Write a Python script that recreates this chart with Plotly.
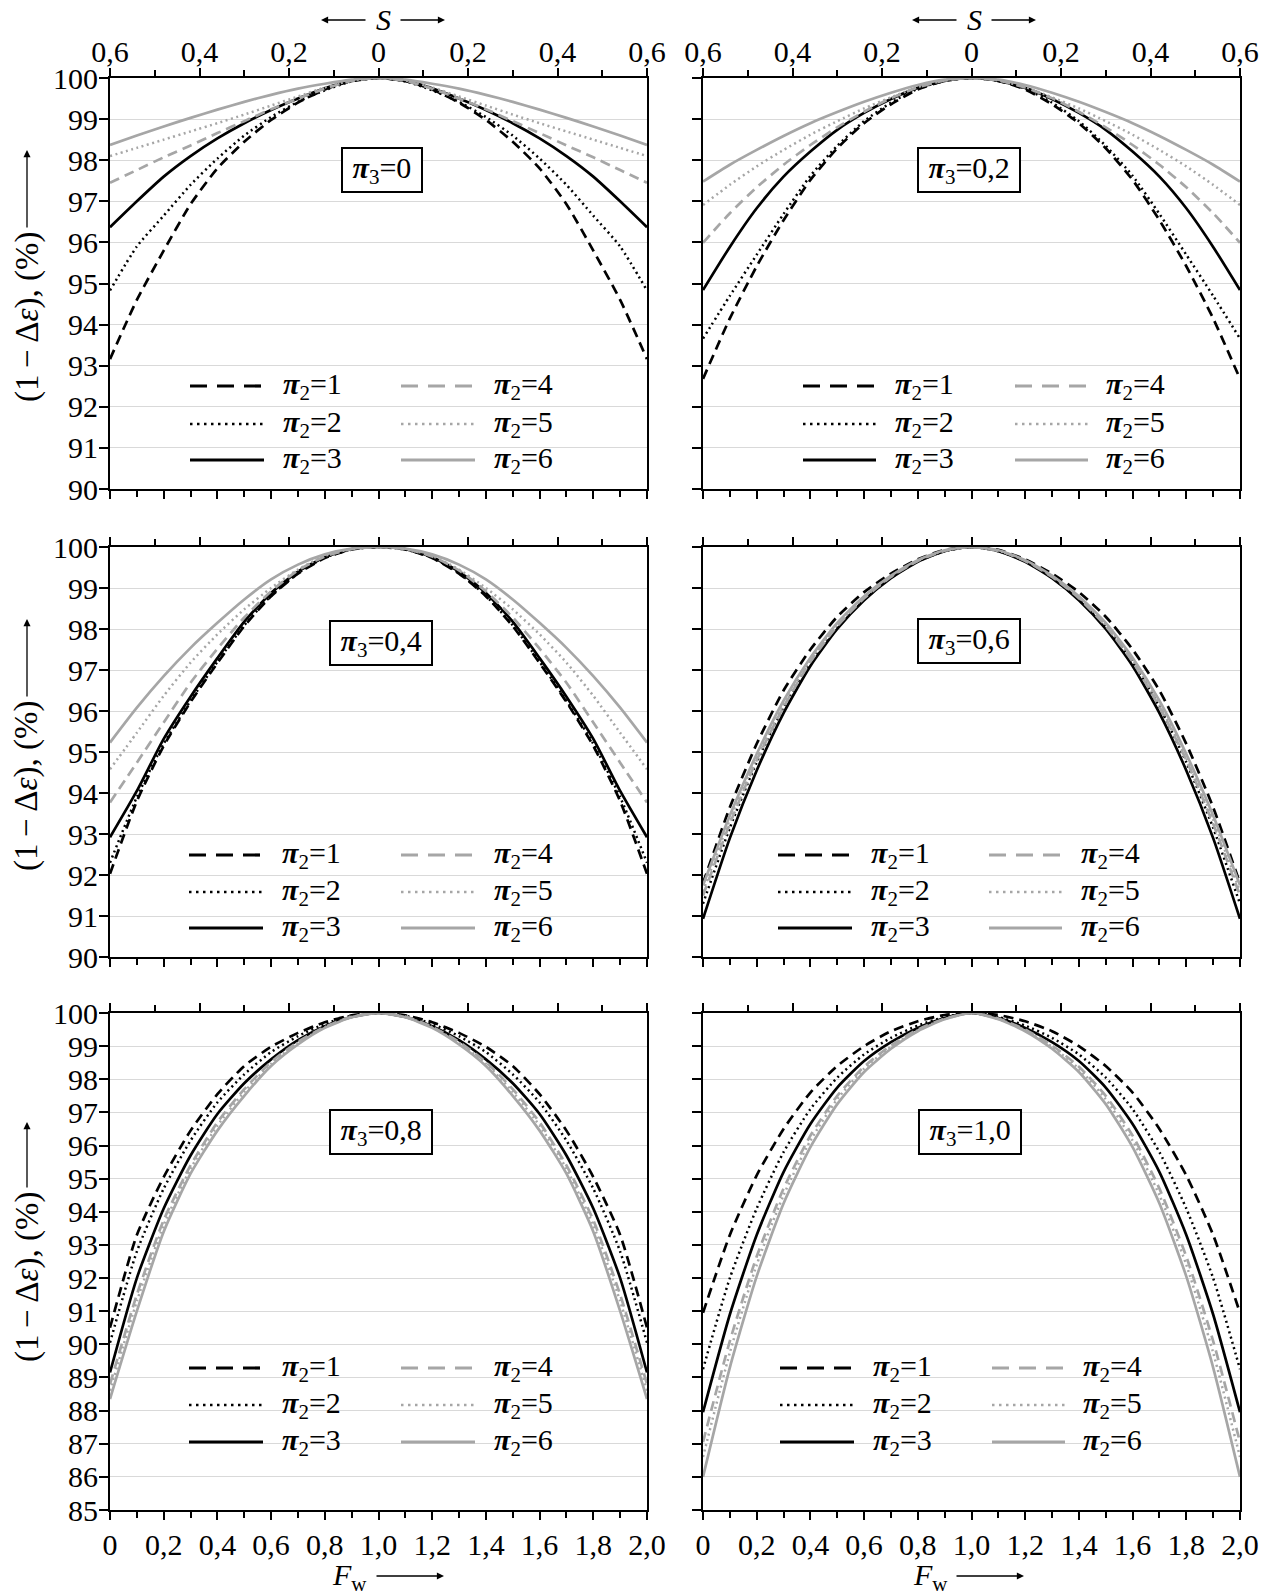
import plotly.graph_objects as go

W, H = 1264, 1596

# ---------------- data ----------------
F_W = [0.0, 0.1, 0.2, 0.3, 0.4, 0.5, 0.6, 0.7, 0.8, 0.9, 1.0,
       1.1, 1.2, 1.3, 1.4, 1.5, 1.6, 1.7, 1.8, 1.9, 2.0]
F_TICKS = [0.0, 0.2, 0.4, 0.6, 0.8, 1.0, 1.2, 1.4, 1.6, 1.8, 2.0]
F_TICK_TEXT = ["0", "0,2", "0,4", "0,6", "0,8", "1,0", "1,2", "1,4", "1,6", "1,8", "2,0"]
F_MINOR = [0.1, 0.3, 0.5, 0.7, 0.9, 1.1, 1.3, 1.5, 1.7, 1.9]
S_TICKS_F = [0.0, 1/3, 2/3, 1.0, 4/3, 5/3, 2.0]
S_TICK_TEXT = ["0,6", "0,4", "0,2", "0", "0,2", "0,4", "0,6"]
S_MINOR_F = [1/6, 0.5, 5/6, 7/6, 1.5, 11/6]

PI3_LABELS = ["0", "0,2", "0,4", "0,6", "0,8", "1,0"]
PI2_LABELS = ["1", "2", "3", "4", "5", "6"]

# pi3 = 0
pi3_0_pi2_1 = [93.16, 94.6, 95.8, 96.93, 97.8, 98.45, 98.98, 99.4, 99.72, 99.93, 100, 99.93, 99.72, 99.4, 98.98, 98.45, 97.8, 96.93, 95.8, 94.6, 93.16]
pi3_0_pi2_2 = [94.83, 95.9, 96.65, 97.4, 98.04, 98.6, 99.05, 99.42, 99.7, 99.92, 100, 99.92, 99.7, 99.42, 99.05, 98.6, 98.04, 97.4, 96.65, 95.9, 94.83]
pi3_0_pi2_3 = [96.37, 97.0, 97.6, 98.1, 98.53, 98.9, 99.22, 99.5, 99.75, 99.93, 100, 99.93, 99.75, 99.5, 99.22, 98.9, 98.53, 98.1, 97.6, 97.0, 96.37]
pi3_0_pi2_4 = [97.45, 97.76, 98.07, 98.36, 98.66, 98.95, 99.24, 99.5, 99.74, 99.93, 100, 99.93, 99.74, 99.5, 99.24, 98.95, 98.66, 98.36, 98.07, 97.76, 97.45]
pi3_0_pi2_5 = [98.1, 98.3, 98.5, 98.7, 98.9, 99.11, 99.33, 99.55, 99.77, 99.94, 100, 99.94, 99.77, 99.55, 99.33, 99.11, 98.9, 98.7, 98.5, 98.3, 98.1]
pi3_0_pi2_6 = [98.37, 98.6, 98.82, 99.03, 99.23, 99.42, 99.59, 99.74, 99.86, 99.96, 100, 99.96, 99.86, 99.74, 99.59, 99.42, 99.23, 99.03, 98.82, 98.6, 98.37]

# pi3 = 0,2
pi3_02_pi2_1 = [92.68, 94.15, 95.42, 96.54, 97.52, 98.29, 98.9, 99.36, 99.72, 99.93, 100, 99.93, 99.72, 99.36, 98.9, 98.29, 97.52, 96.54, 95.42, 94.15, 92.68]
pi3_02_pi2_2 = [93.66, 94.7, 95.7, 96.69, 97.62, 98.35, 98.95, 99.4, 99.74, 99.93, 100, 99.93, 99.74, 99.4, 98.95, 98.35, 97.62, 96.69, 95.7, 94.7, 93.66]
pi3_02_pi2_3 = [94.84, 95.89, 96.83, 97.6, 98.21, 98.74, 99.15, 99.49, 99.76, 99.93, 100, 99.93, 99.76, 99.49, 99.15, 98.74, 98.21, 97.6, 96.83, 95.89, 94.84]
pi3_02_pi2_4 = [95.99, 96.71, 97.34, 97.89, 98.37, 98.8, 99.18, 99.51, 99.77, 99.94, 100, 99.94, 99.77, 99.51, 99.18, 98.8, 98.37, 97.89, 97.34, 96.71, 95.99]
pi3_02_pi2_5 = [96.91, 97.4, 97.85, 98.25, 98.62, 98.95, 99.26, 99.53, 99.78, 99.94, 100, 99.94, 99.78, 99.53, 99.26, 98.95, 98.62, 98.25, 97.85, 97.4, 96.91]
pi3_02_pi2_6 = [97.48, 97.89, 98.25, 98.59, 98.9, 99.17, 99.42, 99.64, 99.83, 99.96, 100, 99.96, 99.83, 99.64, 99.42, 99.17, 98.9, 98.59, 98.25, 97.89, 97.48]

# pi3 = 0,4
pi3_04_pi2_1 = [92.03, 93.8, 95.15, 96.22, 97.17, 98.07, 98.8, 99.35, 99.73, 99.94, 100, 99.94, 99.73, 99.35, 98.8, 98.07, 97.17, 96.22, 95.15, 93.8, 92.03]
pi3_04_pi2_2 = [92.3, 93.9, 95.2, 96.25, 97.2, 98.09, 98.81, 99.36, 99.74, 99.94, 100, 99.94, 99.74, 99.36, 98.81, 98.09, 97.2, 96.25, 95.2, 93.9, 92.3]
pi3_04_pi2_3 = [92.92, 94.05, 95.32, 96.35, 97.29, 98.18, 98.88, 99.4, 99.75, 99.95, 100, 99.95, 99.75, 99.4, 98.88, 98.18, 97.29, 96.35, 95.32, 94.05, 92.92]
pi3_04_pi2_4 = [93.77, 94.74, 95.72, 96.69, 97.52, 98.28, 98.92, 99.43, 99.77, 99.95, 100, 99.95, 99.77, 99.43, 98.92, 98.28, 97.52, 96.69, 95.72, 94.74, 93.77]
pi3_04_pi2_5 = [94.58, 95.47, 96.37, 97.18, 97.87, 98.48, 99.0, 99.45, 99.78, 99.95, 100, 99.95, 99.78, 99.45, 99.0, 98.48, 97.87, 97.18, 96.37, 95.47, 94.58]
pi3_04_pi2_6 = [95.23, 96.08, 96.85, 97.54, 98.15, 98.72, 99.21, 99.57, 99.82, 99.96, 100, 99.96, 99.82, 99.57, 99.21, 98.72, 98.15, 97.54, 96.85, 96.08, 95.23]

# pi3 = 0,6
pi3_06_pi2_1 = [91.8, 93.65, 95.2, 96.5, 97.5, 98.3, 98.9, 99.35, 99.7, 99.93, 100, 99.93, 99.7, 99.35, 98.9, 98.3, 97.5, 96.5, 95.2, 93.65, 91.8]
pi3_06_pi2_2 = [91.3, 93.15, 94.75, 96.1, 97.2, 98.05, 98.72, 99.25, 99.65, 99.9, 100, 99.9, 99.65, 99.25, 98.72, 98.05, 97.2, 96.1, 94.75, 93.15, 91.3]
pi3_06_pi2_3 = [90.93, 92.9, 94.55, 95.95, 97.1, 98.0, 98.7, 99.24, 99.64, 99.9, 100, 99.9, 99.64, 99.24, 98.7, 98.0, 97.1, 95.95, 94.55, 92.9, 90.93]
pi3_06_pi2_4 = [91.5, 93.25, 94.8, 96.1, 97.2, 98.07, 98.75, 99.27, 99.66, 99.91, 100, 99.91, 99.66, 99.27, 98.75, 98.07, 97.2, 96.1, 94.8, 93.25, 91.5]
pi3_06_pi2_5 = [91.6, 93.35, 94.85, 96.15, 97.25, 98.1, 98.77, 99.28, 99.67, 99.91, 100, 99.91, 99.67, 99.28, 98.77, 98.1, 97.25, 96.15, 94.85, 93.35, 91.6]
pi3_06_pi2_6 = [91.75, 93.45, 94.95, 96.25, 97.3, 98.15, 98.8, 99.3, 99.68, 99.92, 100, 99.92, 99.68, 99.3, 98.8, 98.15, 97.3, 96.25, 94.95, 93.45, 91.75]

# pi3 = 0,8
pi3_08_pi2_1 = [90.5, 93.3, 95.05, 96.45, 97.55, 98.4, 98.98, 99.4, 99.72, 99.93, 100, 99.93, 99.72, 99.4, 98.98, 98.4, 97.55, 96.45, 95.05, 93.3, 90.5]
pi3_08_pi2_2 = [90.05, 92.8, 94.7, 96.15, 97.3, 98.15, 98.82, 99.3, 99.67, 99.92, 100, 99.92, 99.67, 99.3, 98.82, 98.15, 97.3, 96.15, 94.7, 92.8, 90.05]
pi3_08_pi2_3 = [89.15, 92.0, 94.1, 95.7, 96.95, 97.88, 98.6, 99.18, 99.6, 99.88, 100, 99.88, 99.6, 99.18, 98.6, 97.88, 96.95, 95.7, 94.1, 92.0, 89.15]
pi3_08_pi2_4 = [88.8, 91.5, 93.75, 95.4, 96.7, 97.7, 98.52, 99.13, 99.58, 99.89, 100, 99.89, 99.58, 99.13, 98.52, 97.7, 96.7, 95.4, 93.75, 91.5, 88.8]
pi3_08_pi2_5 = [88.6, 91.3, 93.6, 95.3, 96.6, 97.62, 98.47, 99.1, 99.57, 99.88, 100, 99.88, 99.57, 99.1, 98.47, 97.62, 96.6, 95.3, 93.6, 91.3, 88.6]
pi3_08_pi2_6 = [88.35, 91.0, 93.4, 95.15, 96.45, 97.5, 98.4, 99.05, 99.55, 99.87, 100, 99.87, 99.55, 99.05, 98.4, 97.5, 96.45, 95.15, 93.4, 91.0, 88.35]

# pi3 = 1,0
pi3_10_pi2_1 = [90.95, 93.3, 95.1, 96.5, 97.6, 98.4, 99.0, 99.45, 99.75, 99.94, 100, 99.94, 99.75, 99.45, 99.0, 98.4, 97.6, 96.5, 95.1, 93.3, 90.95]
pi3_10_pi2_2 = [89.25, 92.0, 94.1, 95.8, 97.1, 98.05, 98.75, 99.25, 99.62, 99.88, 100, 99.88, 99.62, 99.25, 98.75, 98.05, 97.1, 95.8, 94.1, 92.0, 89.25]
pi3_10_pi2_3 = [87.95, 90.9, 93.3, 95.2, 96.65, 97.75, 98.55, 99.12, 99.55, 99.85, 100, 99.85, 99.55, 99.12, 98.55, 97.75, 96.65, 95.2, 93.3, 90.9, 87.95]
pi3_10_pi2_4 = [87.05, 90.1, 92.65, 94.7, 96.3, 97.5, 98.38, 99.02, 99.5, 99.83, 100, 99.83, 99.5, 99.02, 98.38, 97.5, 96.3, 94.7, 92.65, 90.1, 87.05]
pi3_10_pi2_5 = [86.6, 89.75, 92.4, 94.5, 96.15, 97.4, 98.32, 98.98, 99.48, 99.82, 100, 99.82, 99.48, 98.98, 98.32, 97.4, 96.15, 94.5, 92.4, 89.75, 86.6]
pi3_10_pi2_6 = [86.0, 89.3, 92.05, 94.25, 95.95, 97.25, 98.22, 98.92, 99.45, 99.81, 100, 99.81, 99.45, 98.92, 98.22, 97.25, 95.95, 94.25, 92.05, 89.3, 86.0]

PANELS = [
    [pi3_0_pi2_1, pi3_0_pi2_2, pi3_0_pi2_3, pi3_0_pi2_4, pi3_0_pi2_5, pi3_0_pi2_6],
    [pi3_02_pi2_1, pi3_02_pi2_2, pi3_02_pi2_3, pi3_02_pi2_4, pi3_02_pi2_5, pi3_02_pi2_6],
    [pi3_04_pi2_1, pi3_04_pi2_2, pi3_04_pi2_3, pi3_04_pi2_4, pi3_04_pi2_5, pi3_04_pi2_6],
    [pi3_06_pi2_1, pi3_06_pi2_2, pi3_06_pi2_3, pi3_06_pi2_4, pi3_06_pi2_5, pi3_06_pi2_6],
    [pi3_08_pi2_1, pi3_08_pi2_2, pi3_08_pi2_3, pi3_08_pi2_4, pi3_08_pi2_5, pi3_08_pi2_6],
    [pi3_10_pi2_1, pi3_10_pi2_2, pi3_10_pi2_3, pi3_10_pi2_4, pi3_10_pi2_5, pi3_10_pi2_6],
]
Y_RANGES = [[90, 100], [90, 100], [90, 100], [90, 100], [85, 100], [85, 100]]

# ---------------- styling / layout ----------------
FONT = "Liberation Serif"
FS = 30
BLACK = "#000000"
GRAY = "#a6a6a6"
CURVE_STYLE = [
    dict(color=BLACK, width=2.7, dash="10px,6px"),
    dict(color=BLACK, width=2.5, dash="2px,3.5px"),
    dict(color=BLACK, width=2.7, dash="solid"),
    dict(color=GRAY, width=2.7, dash="10px,6px"),
    dict(color=GRAY, width=2.5, dash="2px,3.5px"),
    dict(color=GRAY, width=2.7, dash="solid"),
]
LEGEND_DASH = ["17px,10px", "2.5px,4.5px", "solid", "17px,10px", "2.5px,4.5px", "solid"]

COLS_X = [(110, 647), (703, 1240)]
ROWS_Y = [(78, 489), (547, 957), (1013, 1510)]


def px(x):
    return x / W


def py(y):
    return 1 - y / H


fig = go.Figure()
layout = dict(
    template="none",
    width=W, height=H, autosize=False,
    margin=dict(l=0, r=0, t=0, b=0, pad=0),
    paper_bgcolor="white", plot_bgcolor="white",
    font=dict(family=FONT, size=FS, color="black"),
    showlegend=False,
)
annotations = []
shapes = []

LEG_COLS = [
    [(190, 264, 281), (401, 475, 492)],
    [(803, 876, 893), (1015, 1088, 1104)],
    [(189, 263, 280), (401, 475, 492)],
    [(778, 852, 869), (989, 1062, 1079)],
    [(189, 263, 280), (401, 475, 492)],
    [(780, 854, 871), (992, 1065, 1081)],
]
LEG_ROWS = [(386, 424, 460), (386, 424, 460), (855, 892, 928), (855, 892, 928),
            (1368, 1405, 1442), (1368, 1405, 1442)]
BOX_POS = [(382, 170), (969, 170), (381, 643), (969, 641), (381, 1132), (970, 1132)]

for i in range(6):
    r, c = i // 2, i % 2
    k = i + 1
    x0, x1 = COLS_X[c]
    y0, y1 = ROWS_Y[r]
    xa = "xaxis" if k == 1 else f"xaxis{k}"
    ya = "yaxis" if k == 1 else f"yaxis{k}"
    xs = f"xaxis{k + 6}"
    xref = "x" if k == 1 else f"x{k}"
    yref = "y" if k == 1 else f"y{k}"

    layout[xa] = dict(
        domain=[px(x0), px(x1)], anchor=yref, range=[0, 2], automargin=False,
        showline=True, linewidth=2, linecolor="black", mirror=False,
        showgrid=False, zeroline=False,
        tickmode="array", tickvals=F_TICKS, ticktext=F_TICK_TEXT,
        showticklabels=(r == 2), ticks="outside", ticklen=8, tickwidth=2, tickcolor="black",
        ticklabelstandoff=-1,
        minor=dict(tickmode="array", tickvals=F_MINOR, ticks="outside", ticklen=6,
                   tickwidth=2, tickcolor="black", showgrid=False),
        tickfont=dict(family=FONT, size=FS, color="black"),
    )
    layout[xs] = dict(
        overlaying=xref, side="top", anchor=yref, range=[0, 2], automargin=False,
        showline=True, linewidth=2, linecolor="black",
        showgrid=False, zeroline=False,
        tickmode="array", tickvals=S_TICKS_F, ticktext=S_TICK_TEXT,
        showticklabels=(r == 0), ticks="outside", ticklen=8, tickwidth=2, tickcolor="black",
        ticklabelstandoff=-6,
        minor=dict(tickmode="array", tickvals=S_MINOR_F, ticks="outside", ticklen=6,
                   tickwidth=2, tickcolor="black", showgrid=False),
        tickfont=dict(family=FONT, size=FS, color="black"),
    )
    layout[ya] = dict(
        domain=[py(y1), py(y0)], anchor=xref, range=Y_RANGES[i], automargin=False,
        showline=True, linewidth=2, linecolor="black", mirror=True,
        showgrid=True, gridcolor="#d9d9d9", gridwidth=1, zeroline=False,
        tickmode="linear", tick0=Y_RANGES[i][0], dtick=1,
        showticklabels=(c == 0), ticks="outside", ticklen=9, tickwidth=2, tickcolor="black",
        ticklabelstandoff=-5,
        tickfont=dict(family=FONT, size=FS, color="black"),
    )

    for j, vals in enumerate(PANELS[i]):
        st = CURVE_STYLE[j]
        fig.add_trace(go.Scatter(
            x=F_W, y=vals, mode="lines", xaxis=xref, yaxis=yref,
            line=dict(color=st["color"], width=st["width"], dash=st["dash"],
                      shape="spline", smoothing=0.6),
            hoverinfo="skip", showlegend=False,
        ))
    # invisible trace so the top S axis is drawn
    fig.add_trace(go.Scatter(
        x=F_W, y=PANELS[i][2], mode="lines", xaxis=f"x{k + 6}", yaxis=yref,
        line=dict(color="rgba(0,0,0,0)", width=0), hoverinfo="skip", showlegend=False,
    ))

    # legend (2 columns x 3 rows)
    for j in range(6):
        col = j // 3
        row = j % 3
        lx0, lx1, tx = LEG_COLS[i][col]
        ly = LEG_ROWS[i][row]
        st = CURVE_STYLE[j]
        shapes.append(dict(
            type="line", xref="paper", yref="paper",
            x0=px(lx0), x1=px(lx1), y0=py(ly), y1=py(ly),
            line=dict(color=st["color"], width=3.2 if j % 3 != 1 else 2.7, dash=LEGEND_DASH[j]),
        ))
        annotations.append(dict(
            xref="paper", yref="paper", x=px(tx), y=py(ly),
            xanchor="left", yanchor="middle", showarrow=False,
            text=f"<b><i>π</i></b><sub>2</sub>={PI2_LABELS[j]}",
            font=dict(family=FONT, size=FS, color="black"),
        ))

    # boxed panel label
    bx, by = BOX_POS[i]
    annotations.append(dict(
        xref="paper", yref="paper", x=px(bx), y=py(by),
        xanchor="center", yanchor="middle", showarrow=False,
        text=f"&nbsp;<b><i>π</i></b><sub>3</sub>={PI3_LABELS[i]}&nbsp;",
        font=dict(family=FONT, size=FS, color="black"),
        bordercolor="black", borderwidth=2, borderpad=2, bgcolor="white",
    ))


def arrow(x_tip, y_tip, x_tail, y_tail):
    annotations.append(dict(
        xref="paper", yref="paper", x=px(x_tip), y=py(y_tip),
        ax=x_tail - x_tip, ay=y_tail - y_tip, axref="pixel", ayref="pixel",
        text="", showarrow=True, arrowhead=2, arrowsize=1.1, arrowwidth=1.3,
        arrowcolor="black", standoff=0, startstandoff=0,
    ))


# y-axis titles with upward arrows
for text_c, a_base, a_tip in ((317, 229, 150), (786, 698, 619), (1277, 1189, 1122)):
    annotations.append(dict(
        xref="paper", yref="paper", x=px(27), y=py(text_c),
        xanchor="center", yanchor="middle", showarrow=False, textangle=-90,
        text="(1\u2009−\u2009Δ<i>ε</i>), (%)",
        font=dict(family=FONT, size=33, color="black"),
    ))
    arrow(27, a_tip, 27, a_base)

# S titles on top with left/right arrows
for xc in (383, 974):
    annotations.append(dict(
        xref="paper", yref="paper", x=px(xc), y=py(20),
        xanchor="center", yanchor="middle", showarrow=False,
        text="<i>S</i>", font=dict(family=FONT, size=FS, color="black"),
    ))
    arrow(xc - 62, 20, xc - 16, 20)
    arrow(xc + 62, 20, xc + 16, 20)

# F_w titles on bottom with right arrows
for xc in (350, 930):
    annotations.append(dict(
        xref="paper", yref="paper", x=px(xc), y=py(1577),
        xanchor="center", yanchor="middle", showarrow=False,
        text="<i>F</i><sub>w</sub>", font=dict(family=FONT, size=FS, color="black"),
    ))
    arrow(xc + 94, 1576, xc + 25, 1576)

layout["annotations"] = annotations
layout["shapes"] = shapes
fig.update_layout(**layout)

fig.write_html("out.html", config={"displayModeBar": False},
               post_script="document.body.style.margin='0';")
